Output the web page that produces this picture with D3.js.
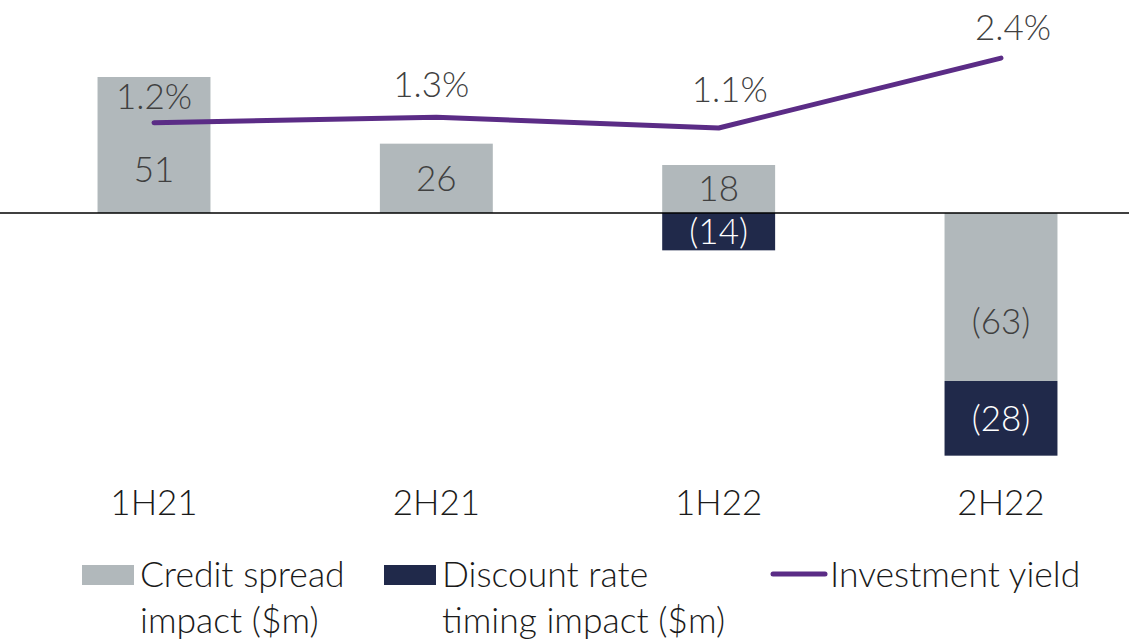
<!DOCTYPE html>
<html><head><meta charset="utf-8">
<script src="https://cdn.jsdelivr.net/npm/d3@7"></script>
<style>
html,body{margin:0;padding:0;background:#fff;}
svg{display:block;}
text{font-family:"Source Sans Pro","Lato","Open Sans",sans-serif;font-weight:300;}
</style></head>
<body>
<svg id="c" width="1129" height="642"></svg>
<script>
const categories = ["1H21","2H21","1H22","2H22"];
const creditSpread = [51, 26, 18, -63];
const discountRate = [0, 0, -14, -28];
const investmentYield = [1.2, 1.3, 1.1, 2.4];
const yieldLabels = ["1.2%","1.3%","1.1%","2.4%"];
const legendItems = [
  {type:"rect", color:"#b1b8bb", lines:["Credit spread","impact ($m)"]},
  {type:"rect", color:"#20294a", lines:["Discount rate","timing impact ($m)"]},
  {type:"line", color:"#5b2c86", lines:["Investment yield"]}
];

const svg = d3.select("#c");
const x = d3.scalePoint().domain(categories).range([154, 1001]);
const bw = x.step() * 0.4;
const y = d3.scaleLinear().domain([-100, 60]).range([479.67, 53]);
const y2 = d3.scaleLinear().domain([0, 3]).range([187.2, 25.8]);

const fmt = v => v < 0 ? "(" + Math.abs(v) + ")" : String(v);
const FS = 35;

// bars
const g = svg.append("g");
categories.forEach((c, i) => {
  const v = creditSpread[i];
  const y0 = y(Math.max(0, v)), y1 = y(Math.min(0, v));
  g.append("rect").attr("x", x(c) - bw/2).attr("y", y0).attr("width", bw).attr("height", y1 - y0).attr("fill", "#b1b8bb");
  const h = y1 - y0;
  const my = (y0 + y1) / 2 + (h > 100 ? 25 : 0);
  g.append("text").attr("x", x(c)).attr("y", my).attr("dy", "0.35em").attr("text-anchor", "middle")
    .attr("font-size", FS).attr("fill", "#404040").text(fmt(v));
  const d = discountRate[i];
  if (d !== 0) {
    const base = Math.min(0, v);
    const a = y(base), b = y(base + d);
    g.append("rect").attr("x", x(c) - bw/2).attr("y", a).attr("width", bw).attr("height", b - a).attr("fill", "#20294a");
    g.append("text").attr("x", x(c)).attr("y", (a + b) / 2).attr("dy", "0.35em").attr("text-anchor", "middle")
      .attr("font-size", FS).attr("fill", "#ffffff").text(fmt(d));
  }
});

// zero line
svg.append("line").attr("x1", 0).attr("x2", 1129).attr("y1", y(0)).attr("y2", y(0)).attr("stroke", "#000").attr("stroke-width", 1.5);

// yield line
const line = d3.line().x((d, i) => x(categories[i])).y(d => y2(d));
svg.append("path").datum(investmentYield).attr("d", line).attr("fill", "none")
  .attr("stroke", "#5b2c86").attr("stroke-width", 5).attr("stroke-linecap", "round").attr("stroke-linejoin", "round");
const ldx = [0, -5, 11, 12];
const ldy = [-14, -20, -26, -18];
svg.selectAll(".yl").data(investmentYield).enter().append("text")
  .attr("x", (d, i) => x(categories[i]) + ldx[i])
  .attr("y", (d, i) => y2(d) + ldy[i]).attr("text-anchor", "middle").attr("font-size", FS).attr("fill", "#404040")
  .text((d, i) => yieldLabels[i]);

// category labels
svg.selectAll(".cat").data(categories).enter().append("text")
  .attr("x", d => x(d)).attr("y", 515).attr("text-anchor", "middle").attr("font-size", FS).attr("fill", "#1a1a1a").text(d => d);

// legend
const lx = [82, 384, 771];
legendItems.forEach((it, i) => {
  const lg = svg.append("g").attr("transform", `translate(${lx[i]},0)`);
  if (it.type === "rect") lg.append("rect").attr("x", 0).attr("y", 565).attr("width", 52).attr("height", 20).attr("fill", it.color);
  else lg.append("line").attr("x1", 2).attr("x2", 54).attr("y1", 574).attr("y2", 574).attr("stroke", it.color).attr("stroke-width", 5).attr("stroke-linecap", "round");
  it.lines.forEach((t, j) => {
    lg.append("text").attr("x", it.type === "rect" ? 58 : 59).attr("y", 587 + j * 46).attr("font-size", 35.5).attr("fill", "#1a1a1a").text(t);
  });
});
</script>
</body></html>
